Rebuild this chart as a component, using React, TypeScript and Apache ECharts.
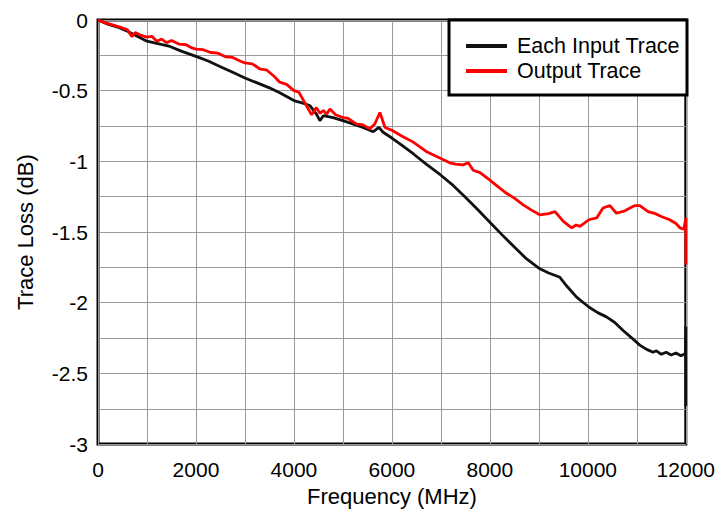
import React, { useEffect, useRef } from "react";
import * as echarts from "echarts";

const inputFreq = [0, 200, 400, 600, 800, 1000, 1200, 1470, 1700, 2000, 2250, 2500, 2750, 3000, 3250, 3500, 3710, 4000, 4200, 4330, 4460, 4530, 4600, 4800, 5000, 5200, 5410, 5620, 5735, 5820, 6000, 6200, 6435, 6700, 7000, 7250, 7490, 7750, 8000, 8250, 8510, 8750, 9020, 9200, 9430, 9565, 9770, 10020, 10200, 10380, 10550, 10720, 10900, 11060, 11200, 11330, 11400, 11500, 11600, 11700, 11800, 11900, 11990, 12000, 12000, 12000];
const inputLoss = [0, -0.03, -0.05, -0.08, -0.115, -0.15, -0.165, -0.187, -0.22, -0.257, -0.29, -0.33, -0.37, -0.41, -0.445, -0.48, -0.514, -0.57, -0.59, -0.607, -0.666, -0.712, -0.677, -0.69, -0.712, -0.735, -0.76, -0.79, -0.76, -0.794, -0.835, -0.885, -0.946, -1.02, -1.098, -1.17, -1.25, -1.34, -1.43, -1.52, -1.61, -1.69, -1.76, -1.79, -1.82, -1.88, -1.96, -2.03, -2.07, -2.1, -2.14, -2.196, -2.25, -2.3, -2.33, -2.35, -2.34, -2.365, -2.35, -2.37, -2.355, -2.375, -2.36, -2.17, -2.73, -2.37];

const outputFreq = [0, 150, 300, 450, 600, 690, 760, 850, 1000, 1100, 1200, 1300, 1400, 1500, 1650, 1800, 1900, 2000, 2150, 2300, 2450, 2600, 2750, 2900, 3000, 3150, 3300, 3450, 3600, 3710, 3850, 4000, 4100, 4200, 4360, 4460, 4530, 4600, 4670, 4735, 4850, 5000, 5100, 5280, 5400, 5550, 5650, 5755, 5860, 6000, 6200, 6435, 6700, 7000, 7180, 7300, 7450, 7560, 7660, 7800, 8000, 8170, 8340, 8500, 8680, 8850, 9020, 9200, 9330, 9500, 9670, 9760, 9840, 10020, 10180, 10310, 10450, 10585, 10755, 10960, 11060, 11230, 11380, 11500, 11670, 11800, 11880, 11960, 12000, 12000, 12000];
const outputLoss = [0, -0.02, -0.035, -0.05, -0.07, -0.117, -0.089, -0.105, -0.121, -0.115, -0.15, -0.135, -0.16, -0.145, -0.17, -0.175, -0.195, -0.206, -0.21, -0.23, -0.235, -0.26, -0.265, -0.29, -0.304, -0.31, -0.345, -0.355, -0.4, -0.44, -0.455, -0.5, -0.51, -0.572, -0.67, -0.62, -0.66, -0.64, -0.665, -0.63, -0.67, -0.69, -0.695, -0.736, -0.74, -0.77, -0.736, -0.654, -0.76, -0.78, -0.82, -0.864, -0.93, -0.98, -1.01, -1.02, -1.025, -1.01, -1.063, -1.08, -1.133, -1.18, -1.226, -1.26, -1.308, -1.345, -1.378, -1.37, -1.355, -1.425, -1.47, -1.45, -1.46, -1.413, -1.4, -1.33, -1.313, -1.367, -1.35, -1.313, -1.313, -1.355, -1.37, -1.39, -1.413, -1.44, -1.47, -1.48, -1.4, -1.73, -1.48];

const seriesNames = ["Each Input Trace", "Output Trace"];
const seriesColors = ["#111111", "#ff0000"];

const FONT = "'Liberation Sans', Arial, sans-serif";

export default function App() {
  const ref = useRef<HTMLDivElement>(null);
  useEffect(() => {
    if (!ref.current) return;
    const chart = echarts.init(ref.current, undefined, { renderer: "svg" });
    const pairs = (xs: number[], ys: number[]) => xs.map((x, i) => [x, ys[i]]);
    chart.setOption({
      animation: false,
      backgroundColor: "#fff",
      textStyle: { fontFamily: FONT },
      grid: {
        left: 98,
        top: 20,
        width: 589,
        height: 428,
        show: true,
        borderColor: "#000",
        borderWidth: 3,
        backgroundColor: "transparent",
      },
      xAxis: {
        type: "value",
        min: 0,
        max: 12000,
        interval: 1000,
        name: "Frequency (MHz)",
        nameLocation: "middle",
        nameGap: 38,
        nameTextStyle: { fontSize: 22, color: "#000", fontFamily: FONT },
        axisLine: { show: false },
        axisTick: { show: false },
        axisLabel: {
          fontSize: 21,
          color: "#000",
          fontFamily: FONT,
          margin: 15,
          formatter: (v: number) => (v % 2000 === 0 ? String(v) : ""),
        },
        splitLine: { show: true, lineStyle: { color: "#999", width: 1 } },
      },
      yAxis: {
        type: "value",
        min: -3,
        max: 0,
        interval: 0.25,
        name: "Trace Loss (dB)",
        nameLocation: "middle",
        nameRotate: 90,
        nameGap: 62,
        nameTextStyle: { fontSize: 22, color: "#000", fontFamily: FONT },
        axisLine: { show: false },
        axisTick: { show: false },
        axisLabel: {
          fontSize: 21,
          color: "#000",
          fontFamily: FONT,
          margin: 10,
          formatter: (v: number) =>
            Math.abs(v * 2 - Math.round(v * 2)) < 1e-9 ? String(Math.round(v * 2) / 2) : "",
        },
        splitLine: { show: true, lineStyle: { color: "#999", width: 1 } },
      },
      legend: {
        data: seriesNames,
        orient: "vertical",
        left: 461,
        top: 29,
        icon: "rect",
        itemWidth: 41,
        itemHeight: 4,
        itemGap: 1,
        z: 20,
        textStyle: {
          fontSize: 21.5,
          lineHeight: 24,
          color: "#000",
          fontFamily: FONT,
          padding: [0, 0, 0, 5],
        },
      },
      graphic: [
        {
          type: "rect",
          z: 15,
          shape: { x: 449, y: 20, width: 238, height: 75 },
          style: { fill: "#fff", stroke: "#000", lineWidth: 3 },
        },
      ],
      series: [
        {
          name: seriesNames[0],
          type: "line",
          data: pairs(inputFreq, inputLoss),
          showSymbol: false,
          symbol: "none",
          lineStyle: { color: seriesColors[0], width: 2.8 },
          itemStyle: { color: seriesColors[0] },
          z: 3,
        },
        {
          name: seriesNames[1],
          type: "line",
          data: pairs(outputFreq, outputLoss),
          showSymbol: false,
          symbol: "none",
          lineStyle: { color: seriesColors[1], width: 2.8 },
          itemStyle: { color: seriesColors[1] },
          z: 4,
        },
      ],
    });
    return () => chart.dispose();
  }, []);
  return (
    <div
      ref={ref}
      style={{ position: "fixed", left: 0, top: 0, width: 718, height: 512, background: "#fff" }}
    />
  );
}
